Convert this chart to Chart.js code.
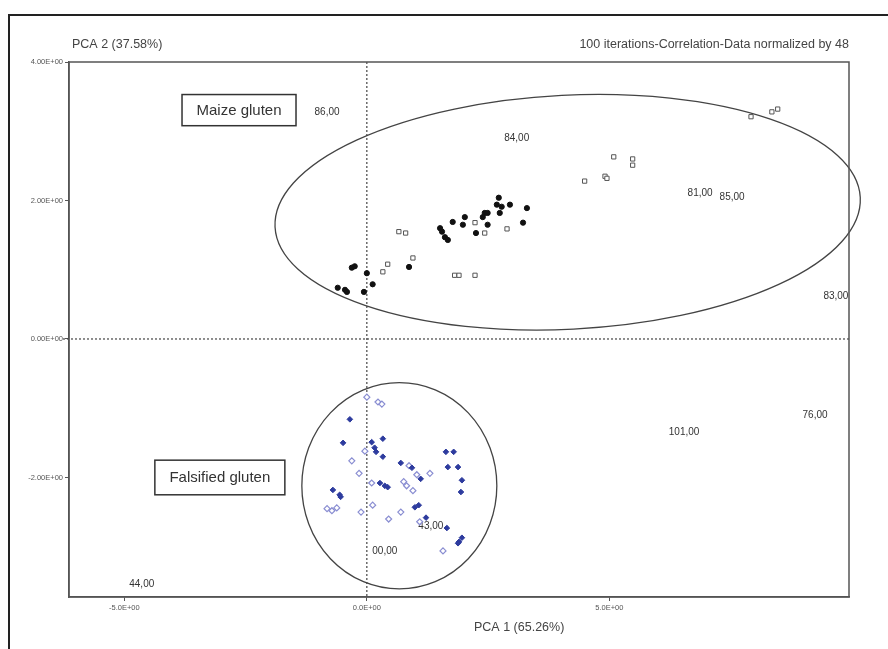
<!DOCTYPE html>
<html>
<head>
<meta charset="utf-8">
<script src="https://cdn.jsdelivr.net/npm/chart.js@4/dist/chart.umd.min.js"></script>
<style>
  html, body { margin: 0; padding: 0; background: #fff; }
  #wrap { position: relative; width: 888px; height: 649px; overflow: hidden; }
  #frame { position: absolute; left: 8px; top: 14px; width: 900px; height: 700px;
           border-left: 2px solid #222; border-top: 2px solid #222; pointer-events: none; }
  canvas { position: absolute; left: 0; top: 0; }
</style>
</head>
<body>
<div id="wrap">
  <canvas id="c" width="888" height="649"></canvas>
  <div id="frame"></div>
</div>
<script>
// ---- Data (PCA scores) ----
const maizeFilledX = [2.72, 2.68, 2.78, 2.95, 2.74, 3.30, 3.22, 2.43, 2.49, 2.39, 2.02, 1.98, 1.77, 2.25, 1.51, 1.55, 1.61, 1.67, -0.31, -0.25, 0.00, 0.12, -0.60, -0.45, -0.41, -0.06, 0.87, 2.49];
const maizeFilledY = [2.04, 1.94, 1.91, 1.94, 1.82, 1.89, 1.68, 1.82, 1.82, 1.76, 1.76, 1.65, 1.69, 1.53, 1.60, 1.55, 1.47, 1.43, 1.03, 1.05, 0.95, 0.79, 0.74, 0.71, 0.68, 0.68, 1.04, 1.65];
const maizeOpenX = [0.66, 0.80, 0.33, 0.43, 0.95, 1.81, 1.90, 2.23, 2.23, 2.43, 2.89, 7.92, 8.35, 8.47, 5.09, 5.48, 5.48, 4.91, 4.95, 4.49];
const maizeOpenY = [1.55, 1.53, 0.97, 1.08, 1.17, 0.92, 0.92, 0.92, 1.68, 1.53, 1.59, 3.21, 3.28, 3.32, 2.63, 2.60, 2.51, 2.35, 2.32, 2.28];
const falsFilledX = [-0.35, -0.49, 0.10, 0.33, 0.16, 0.19, 0.33, 0.70, 0.93, 1.63, 1.79, 1.67, 1.88, 1.96, 1.94, 0.27, 0.37, 0.43, -0.70, -0.56, -0.54, 0.99, 1.07, 1.22, 1.65, 1.96, 1.90, 1.88, 1.11];
const falsFilledY = [-1.16, -1.50, -1.49, -1.44, -1.57, -1.63, -1.70, -1.79, -1.86, -1.63, -1.63, -1.85, -1.85, -2.04, -2.21, -2.08, -2.12, -2.14, -2.18, -2.25, -2.28, -2.43, -2.40, -2.58, -2.73, -2.87, -2.93, -2.95, -2.02];
const falsOpenX = [0.00, 0.23, 0.31, -0.04, -0.31, -0.16, 0.10, 0.87, 1.03, 1.30, 0.76, 0.82, 0.95, -0.82, -0.72, -0.62, -0.12, 0.12, 0.45, 0.70, 1.09, 1.57];
const falsOpenY = [-0.84, -0.91, -0.94, -1.62, -1.76, -1.94, -2.08, -1.83, -1.96, -1.94, -2.06, -2.12, -2.19, -2.45, -2.48, -2.44, -2.50, -2.40, -2.60, -2.50, -2.64, -3.06];

// sample id labels (text annotations)
const sampleLabels = ["86,00", "84,00", "81,00", "85,00", "83,00", "76,00", "101,00", "43,00", "00,00", "44,00"];
const sampleLabelX = [-0.82, 3.09, 6.87, 7.53, 9.67, 9.24, 6.54, 1.32, 0.37, -4.64];
const sampleLabelY = [3.28, 2.90, 2.11, 2.05, 0.61, -1.10, -1.34, -2.71, -3.06, -3.54];

// axis ticks
const xTickValues = [-5, 0, 5];
const xTickLabels = ["-5.0E+00", "0.0E+00", "5.0E+00"];
const yTickValues = [-2, 0, 2, 4];
const yTickLabels = ["-2.00E+00", "0.00E+00", "2.00E+00", "4.00E+00"];

// group boxes and confidence ellipses (data units)
const groupNames = ["Maize gluten", "Falsified gluten"];
const groupBoxX = [[-3.81, -1.46], [-4.37, -1.69]];
const groupBoxY = [[3.53, 3.08], [-1.75, -2.25]];
const ellipseCX = [4.14, 0.67];
const ellipseCY = [1.83, -2.12];
const ellipseRX = [6.04, 2.01];
const ellipseRY = [1.69, 1.49];
const ellipseRotDeg = [-2.9, 0];

const pts = (xs, ys) => xs.map((x, i) => ({ x, y: ys[i] }));
const FONT = '"Liberation Sans", Arial, sans-serif';

const annotations = {
  id: 'annotations',
  beforeDraw(chart) {
    const ctx = chart.ctx;
    ctx.save();
    ctx.fillStyle = '#fff';
    ctx.fillRect(0, 0, chart.width, chart.height);
    ctx.restore();
  },
  beforeDatasetsDraw(chart) {
    const { ctx, chartArea: a, scales: { x, y } } = chart;
    ctx.save();
    // dotted zero lines
    ctx.strokeStyle = '#444';
    ctx.lineWidth = 1.2;
    ctx.setLineDash([2, 2]);
    const x0 = x.getPixelForValue(0), y0 = y.getPixelForValue(0);
    ctx.beginPath(); ctx.moveTo(x0, a.top); ctx.lineTo(x0, a.bottom); ctx.stroke();
    ctx.beginPath(); ctx.moveTo(a.left - 6, y0); ctx.lineTo(a.right, y0); ctx.stroke();
    ctx.setLineDash([]);
    // ellipses
    ctx.strokeStyle = '#444';
    ctx.lineWidth = 1.3;
    for (let i = 0; i < ellipseCX.length; i++) {
      const cx = x.getPixelForValue(ellipseCX[i]);
      const cy = y.getPixelForValue(ellipseCY[i]);
      const rx = Math.abs(x.getPixelForValue(ellipseCX[i] + ellipseRX[i]) - cx);
      const ry = Math.abs(y.getPixelForValue(ellipseCY[i] + ellipseRY[i]) - cy);
      ctx.beginPath();
      ctx.ellipse(cx, cy, rx, ry, ellipseRotDeg[i] * Math.PI / 180, 0, Math.PI * 2);
      ctx.stroke();
    }
    // plot frame (top and right)
    ctx.strokeStyle = '#555';
    ctx.lineWidth = 1.5;
    ctx.strokeRect(a.left, a.top, a.right - a.left, a.bottom - a.top);
    // group boxes
    ctx.font = '15px ' + FONT;
    ctx.textAlign = 'center';
    ctx.textBaseline = 'middle';
    for (let i = 0; i < groupNames.length; i++) {
      const l = x.getPixelForValue(groupBoxX[i][0]);
      const r = x.getPixelForValue(groupBoxX[i][1]);
      const t = y.getPixelForValue(groupBoxY[i][0]);
      const b = y.getPixelForValue(groupBoxY[i][1]);
      ctx.strokeStyle = '#333';
      ctx.lineWidth = 1.5;
      ctx.strokeRect(l, t, r - l, b - t);
      ctx.fillStyle = '#333';
      ctx.fillText(groupNames[i], (l + r) / 2, (t + b) / 2 + 0.5);
    }
    // sample labels
    ctx.font = '10px ' + FONT;
    ctx.fillStyle = '#333';
    for (let i = 0; i < sampleLabels.length; i++) {
      ctx.fillText(sampleLabels[i], x.getPixelForValue(sampleLabelX[i]), y.getPixelForValue(sampleLabelY[i]));
    }
    // titles
    ctx.font = '12.5px ' + FONT;
    ctx.fillStyle = '#444';
    ctx.textAlign = 'left';
    ctx.fillText('PCA 2 (37.58%)', a.left + 3, 45);
    ctx.textAlign = 'right';
    ctx.fillText('100 iterations-Correlation-Data normalized by 48', a.right, 45);
    ctx.textAlign = 'left';
    ctx.fillText('PCA 1 (65.26%)', 474, 628);
    ctx.restore();
  }
};

new Chart(document.getElementById('c'), {
  type: 'scatter',
  data: {
    datasets: [
      { label: 'Maize filled', data: pts(maizeFilledX, maizeFilledY), pointStyle: 'circle', pointRadius: 2.6,
        backgroundColor: '#111', borderColor: '#111', borderWidth: 1 },
      { label: 'Maize open', data: pts(maizeOpenX, maizeOpenY), pointStyle: 'rect', pointRadius: 3,
        backgroundColor: '#fff', borderColor: '#555', borderWidth: 1 },
      { label: 'Falsified filled', data: pts(falsFilledX, falsFilledY), pointStyle: 'rectRot', pointRadius: 2.8,
        backgroundColor: '#2d3b9e', borderColor: '#2d3b9e', borderWidth: 1 },
      { label: 'Falsified open', data: pts(falsOpenX, falsOpenY), pointStyle: 'rectRot', pointRadius: 3,
        backgroundColor: '#fff', borderColor: '#8a8ed2', borderWidth: 1.2 }
    ]
  },
  options: {
    responsive: false,
    animation: false,
    events: [],
    layout: { padding: { left: 0, top: 62, right: 39, bottom: 0 } },
    plugins: { legend: { display: false }, tooltip: { enabled: false }, title: { display: false } },
    scales: {
      x: {
        type: 'linear',
        min: -6.14, max: 9.94,
        afterBuildTicks: s => { s.ticks = xTickValues.map(v => ({ value: v })); },
        afterFit: s => { s.height = 52; },
        ticks: {
          callback: (v) => { const i = xTickValues.indexOf(v); return i >= 0 ? xTickLabels[i] : ''; },
          font: { size: 7.5, family: FONT },
          color: '#555', padding: 2, maxRotation: 0, autoSkip: false
        },
        grid: { display: true, drawOnChartArea: false, drawTicks: true, tickLength: 4, color: '#555' },
        border: { display: true, color: '#555', width: 1.5 }
      },
      y: {
        type: 'linear',
        min: -3.726, max: 4.0,
        afterBuildTicks: s => { s.ticks = yTickValues.map(v => ({ value: v })); },
        afterFit: s => { s.width = 69; },
        ticks: {
          callback: (v) => { const i = yTickValues.indexOf(v); return i >= 0 ? yTickLabels[i] : ''; },
          font: { size: 7.5, family: FONT },
          color: '#555', padding: 2, autoSkip: false
        },
        grid: { display: true, drawOnChartArea: false, drawTicks: true, tickLength: 4, color: '#555' },
        border: { display: true, color: '#555', width: 1.5 }
      }
    }
  },
  plugins: [annotations]
});
</script>
</body>
</html>
